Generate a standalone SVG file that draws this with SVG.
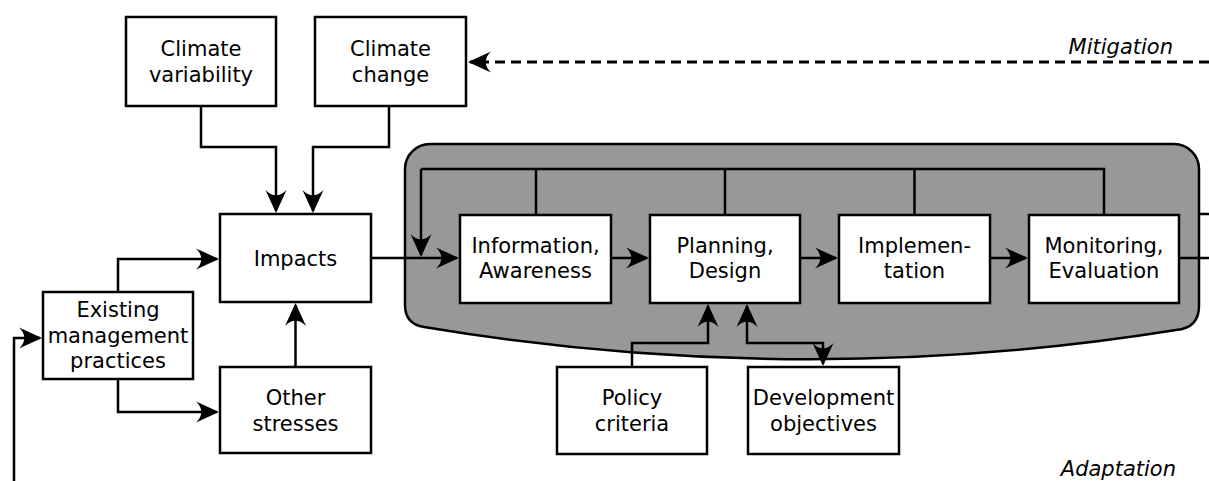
<svg xmlns="http://www.w3.org/2000/svg" width="1209" height="481" viewBox="0 0 1209 481">
  <style>
    .box { fill: #ffffff; stroke: #000000; stroke-width: 2.5; }
    .lbl { font-family: "DejaVu Sans", "Liberation Sans", sans-serif; font-size: 21px; fill: #000000; text-anchor: middle; }
    .note { font-family: "DejaVu Sans", "Liberation Sans", sans-serif; font-size: 21px; font-style: italic; fill: #000000; text-anchor: end; }
    .wire { fill: none; stroke: #000000; stroke-width: 2.5; }
    .arr { marker-end: url(#head); }
    .dash { fill: none; stroke: #000000; stroke-width: 3; stroke-dasharray: 10 6; }
  </style>
  <defs>
    <marker id="head" markerUnits="userSpaceOnUse" markerWidth="30" markerHeight="30" viewBox="-25 -13 30 26" refX="0" refY="0" orient="auto" overflow="visible">
      <path d="M2,0 L-21,-10.5 C-14,-4 -14,4 -21,10.5 Z" fill="#000000"/>
    </marker>
    <marker id="tail" markerUnits="userSpaceOnUse" markerWidth="30" markerHeight="30" viewBox="-25 -13 30 26" refX="0" refY="0" orient="auto-start-reverse" overflow="visible">
      <path d="M2,0 L-21,-10.5 C-14,-4 -14,4 -21,10.5 Z" fill="#000000"/>
    </marker>
  </defs>

  <!-- adaptation process area -->
  <path id="process-area" d="M430,144 H1174 A25,25 0 0 1 1199,169 V306 Q1199,328 1176,330 Q802,390 424,327 Q405,324 405,305 V169 A25,25 0 0 1 430,144 Z" fill="#989898" stroke="#000000" stroke-width="2.5"/>

  <g id="connectors">
    <!-- mitigation feedback -->
    <path class="dash" d="M1209,62 H470" marker-end="url(#head)"/>
    <!-- climate drivers into impacts -->
    <path class="wire arr" d="M201,106 V147 H276 V211"/>
    <path class="wire arr" d="M389,106 V147 H313 V211"/>
    <!-- management practices -->
    <path class="wire arr" d="M118,292 V259 H217"/>
    <path class="wire arr" d="M118,379 V412 H217"/>
    <path class="wire arr" d="M295.5,367 V305"/>
    <path class="wire arr" d="M14,481 V338 H40"/>
    <!-- main chain -->
    <path class="wire arr" d="M371,258 H457"/>
    <path class="wire arr" d="M611,258 H647"/>
    <path class="wire arr" d="M800,258 H836"/>
    <path class="wire arr" d="M990,258 H1026"/>
    <path class="wire" d="M1179,258 H1209"/>
    <path class="wire" d="M1199,214 H1209"/>
    <!-- iterative loop -->
    <path class="wire" d="M421,169 H1104 V215"/>
    <path class="wire" d="M536,169 V215"/>
    <path class="wire" d="M725,169 V215"/>
    <path class="wire" d="M914.5,169 V215"/>
    <path class="wire arr" d="M421,169 V255"/>
    <!-- policy and development inputs -->
    <path class="wire arr" d="M632,367 V343 H708 V306"/>
    <path class="wire arr" d="M747,306 V343 H823 V364" marker-start="url(#tail)"/>
  </g>

  <g id="climate-variability">
    <rect class="box" x="126" y="17" width="150" height="89"/>
    <text class="lbl" x="201" y="56">Climate</text>
    <text class="lbl" x="201" y="82">variability</text>
  </g>
  <g id="climate-change">
    <rect class="box" x="315" y="17" width="151" height="89"/>
    <text class="lbl" x="390.5" y="56">Climate</text>
    <text class="lbl" x="390.5" y="82">change</text>
  </g>
  <g id="impacts">
    <rect class="box" x="220" y="214" width="151" height="88"/>
    <text class="lbl" x="295.5" y="266">Impacts</text>
  </g>
  <g id="existing-practices">
    <rect class="box" x="43" y="292" width="150" height="87"/>
    <text class="lbl" x="118" y="317">Existing</text>
    <text class="lbl" x="118" y="343">management</text>
    <text class="lbl" x="118" y="368">practices</text>
  </g>
  <g id="other-stresses">
    <rect class="box" x="220" y="367" width="151" height="86"/>
    <text class="lbl" x="295.5" y="405">Other</text>
    <text class="lbl" x="295.5" y="431">stresses</text>
  </g>
  <g id="information">
    <rect class="box" x="460" y="215" width="151" height="88"/>
    <text class="lbl" x="535.5" y="253">Information,</text>
    <text class="lbl" x="535.5" y="278">Awareness</text>
  </g>
  <g id="planning">
    <rect class="box" x="650" y="215" width="150" height="88"/>
    <text class="lbl" x="725" y="253">Planning,</text>
    <text class="lbl" x="725" y="278">Design</text>
  </g>
  <g id="implementation">
    <rect class="box" x="839" y="215" width="151" height="88"/>
    <text class="lbl" x="914.5" y="253">Implemen-</text>
    <text class="lbl" x="914.5" y="278">tation</text>
  </g>
  <g id="monitoring">
    <rect class="box" x="1029" y="215" width="150" height="88"/>
    <text class="lbl" x="1104" y="253">Monitoring,</text>
    <text class="lbl" x="1104" y="278">Evaluation</text>
  </g>
  <g id="policy-criteria">
    <rect class="box" x="557" y="367" width="150" height="87"/>
    <text class="lbl" x="632" y="405">Policy</text>
    <text class="lbl" x="632" y="431">criteria</text>
  </g>
  <g id="development-objectives">
    <rect class="box" x="748" y="367" width="151" height="87"/>
    <text class="lbl" x="823.5" y="405">Development</text>
    <text class="lbl" x="823.5" y="431">objectives</text>
  </g>

  <text class="note" x="1173" y="54">Mitigation</text>
  <text class="note" x="1176" y="476">Adaptation</text>
</svg>
